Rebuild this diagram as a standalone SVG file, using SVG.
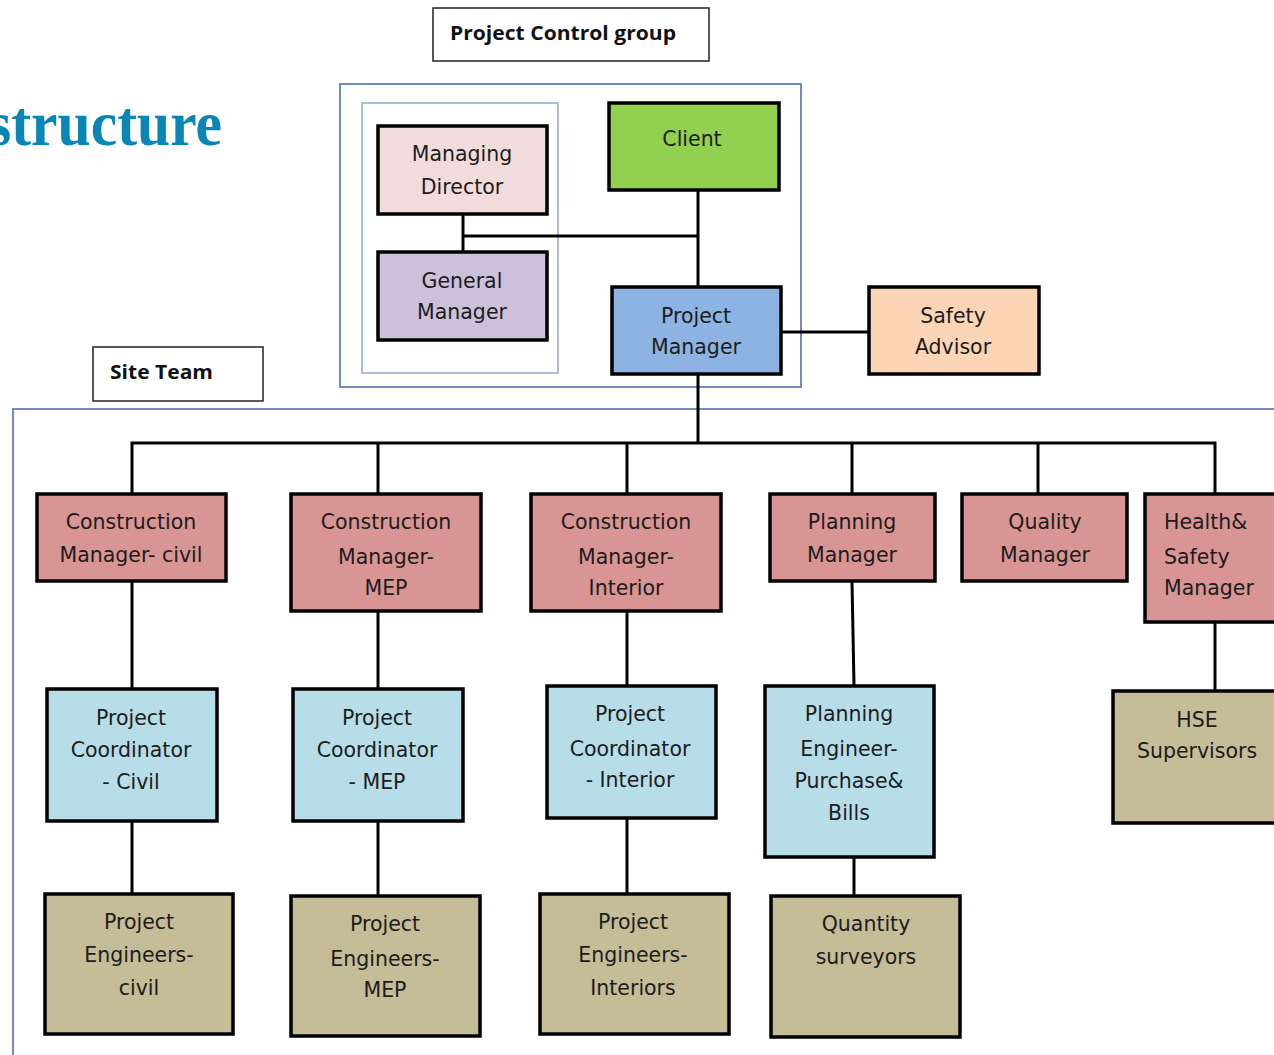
<svg xmlns="http://www.w3.org/2000/svg" width="1274" height="1055" viewBox="0 0 1274 1055">
<style>
.n rect{stroke:#000;stroke-width:3.5}
.n text{font-family:"DejaVu Sans",sans-serif;font-size:20.5px;fill:#1c1c1c;text-anchor:middle}
.red{fill:#d99594}.blue{fill:#b7dde8}.tan{fill:#c4bd97}
.lab rect{fill:#fff;stroke:#222;stroke-width:1.5}
.lab text{font-family:"Open Sans","Liberation Sans",sans-serif;font-weight:bold;font-size:20px;fill:#111}
#connectors path{fill:none;stroke:#000;stroke-width:3}
</style>
<rect width="1274" height="1055" fill="#fff"/>
<text x="-12" y="145" font-family="Liberation Serif,serif" font-weight="bold" font-size="64" fill="#0a86b6" textLength="234" lengthAdjust="spacingAndGlyphs">structure</text>
<g id="grp-pcg" class="lab"><rect x="433" y="8" width="276" height="53"/><text x="450" y="40" textLength="226" lengthAdjust="spacingAndGlyphs">Project Control group</text></g>
<g id="grp-site" class="lab"><rect x="93" y="347" width="170" height="54"/><text x="110" y="379" textLength="103" lengthAdjust="spacingAndGlyphs">Site Team</text></g>
<rect x="340" y="84" width="461" height="303" fill="none" stroke="#6f8dbd" stroke-width="2"/>
<rect x="362" y="103" width="196" height="270" fill="none" stroke="#a9bdd9" stroke-width="2"/>
<rect x="13" y="409" width="1280" height="700" fill="none" stroke="#6f8dbd" stroke-width="2"/>
<g id="connectors">
<path d="M463 214V252M463 236H698M698 190V287M781 332H869M698 374V443"/>
<path d="M132 494V443H1215V494M378 443V494M627 443V494M852 443V494M1038 443V494"/>
<path d="M132 581V689M378 611V689M627 611V686M852 581L854 686M1215 622V691"/>
<path d="M132 821V894M378 821V896M627 818V894M854 857V896"/>
</g>
<g id="md" class="n"><rect x="378" y="126" width="169" height="88" fill="#f2dcdb"/><text x="462" y="161">Managing</text><text x="462" y="194">Director</text></g>
<g id="client" class="n"><rect x="609" y="103" width="170" height="87" fill="#92d050"/><text x="692" y="146">Client</text></g>
<g id="gm" class="n"><rect x="378" y="252" width="169" height="88" fill="#ccc0da"/><text x="462" y="288">General</text><text x="462" y="319">Manager</text></g>
<g id="pm" class="n"><rect x="612" y="287" width="169" height="87" fill="#8db3e2"/><text x="696" y="323">Project</text><text x="696" y="354">Manager</text></g>
<g id="sa" class="n"><rect x="869" y="287" width="170" height="87" fill="#fbd5b5"/><text x="953" y="323">Safety</text><text x="953" y="354">Advisor</text></g>
<g id="cm-civil" class="n"><rect class="red" x="37" y="494" width="189" height="87"/><text x="131" y="529">Construction</text><text x="131" y="562">Manager- civil</text></g>
<g id="cm-mep" class="n"><rect class="red" x="291" y="494" width="190" height="117"/><text x="386" y="529">Construction</text><text x="386" y="564">Manager-</text><text x="386" y="595">MEP</text></g>
<g id="cm-int" class="n"><rect class="red" x="531" y="494" width="190" height="117"/><text x="626" y="529">Construction</text><text x="626" y="564">Manager-</text><text x="626" y="595">Interior</text></g>
<g id="plan-mgr" class="n"><rect class="red" x="770" y="494" width="165" height="87"/><text x="852" y="529">Planning</text><text x="852" y="562">Manager</text></g>
<g id="qual-mgr" class="n"><rect class="red" x="962" y="494" width="165" height="87"/><text x="1045" y="529">Quality</text><text x="1045" y="562">Manager</text></g>
<g id="hs-mgr" class="n"><rect class="red" x="1145" y="494" width="150" height="128"/><text x="1164" y="529" style="text-anchor:start">Health&amp;</text><text x="1164" y="564" style="text-anchor:start">Safety</text><text x="1164" y="595" style="text-anchor:start">Manager</text></g>
<g id="pc-civil" class="n"><rect class="blue" x="47" y="689" width="170" height="132"/><text x="131" y="725">Project</text><text x="131" y="757">Coordinator</text><text x="131" y="789">- Civil</text></g>
<g id="pc-mep" class="n"><rect class="blue" x="293" y="689" width="170" height="132"/><text x="377" y="725">Project</text><text x="377" y="757">Coordinator</text><text x="377" y="789">- MEP</text></g>
<g id="pc-int" class="n"><rect class="blue" x="547" y="686" width="169" height="132"/><text x="630" y="721">Project</text><text x="630" y="756">Coordinator</text><text x="630" y="787">- Interior</text></g>
<g id="plan-eng" class="n"><rect class="blue" x="765" y="686" width="169" height="171"/><text x="849" y="721">Planning</text><text x="849" y="756">Engineer-</text><text x="849" y="788">Purchase&amp;</text><text x="849" y="820">Bills</text></g>
<g id="hse" class="n"><rect class="tan" x="1113" y="691" width="180" height="132"/><text x="1197" y="727">HSE</text><text x="1197" y="758">Supervisors</text></g>
<g id="pe-civil" class="n"><rect class="tan" x="45" y="894" width="188" height="140"/><text x="139" y="929">Project</text><text x="139" y="962">Engineers-</text><text x="139" y="995">civil</text></g>
<g id="pe-mep" class="n"><rect class="tan" x="291" y="896" width="189" height="140"/><text x="385" y="931">Project</text><text x="385" y="966">Engineers-</text><text x="385" y="997">MEP</text></g>
<g id="pe-int" class="n"><rect class="tan" x="540" y="894" width="189" height="140"/><text x="633" y="929">Project</text><text x="633" y="962">Engineers-</text><text x="633" y="995">Interiors</text></g>
<g id="qs" class="n"><rect class="tan" x="771" y="896" width="189" height="141"/><text x="866" y="931">Quantity</text><text x="866" y="964">surveyors</text></g>
</svg>
